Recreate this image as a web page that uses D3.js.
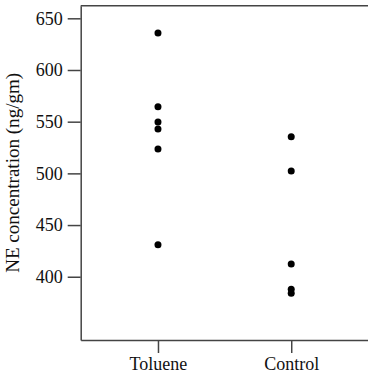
<!DOCTYPE html>
<html>
<head>
<meta charset="utf-8">
<script src="https://cdn.jsdelivr.net/npm/d3@7"></script>
<style>
  body { margin: 0; background: #fff; }
  svg { display: block; }
  .axis text { font-family: "Liberation Serif", "Times New Roman", serif; font-size: 18px; fill: #111; }
  .axis path, .axis line { stroke: #444; stroke-width: 1.5; }
</style>
</head>
<body>
<div class="chart"></div>
<script>
// Groups and NE values
var groups = ["Toluene", "Control"];
var tolueneValues = [635.8, 564.5, 549.7, 542.9, 523.6, 431];
var controlValues = [535.5, 502.3, 412.4, 388, 384];
var yTicks = [400, 450, 500, 550, 600, 650];

var svgWidth = 368;
var svgHeight = 374;

var margin = { top: 5.7, right: -0.5, bottom: 34, left: 80.7 };

var width = svgWidth - margin.left - margin.right;
var height = svgHeight - margin.top - margin.bottom;

var svg = d3.select(".chart")
    .append("svg")
    .attr("width", svgWidth)
    .attr("height", svgHeight);

var chartGroup = svg.append("g")
    .attr("transform", `translate(${margin.left}, ${margin.top})`);

var points = [];
tolueneValues.forEach(function (v) { points.push({ group: "Toluene", value: v }); });
controlValues.forEach(function (v) { points.push({ group: "Control", value: v }); });

var xScale = d3.scalePoint()
    .domain(groups)
    .range([0, width])
    .padding(0.58);

var yScale = d3.scaleLinear()
    .domain([338.8, 662.2])
    .range([height, 0]);

var leftAxis = d3.axisLeft(yScale)
    .tickValues(yTicks)
    .tickSize(13)
    .tickPadding(5)
    .tickSizeOuter(0);

var bottomAxis = d3.axisBottom(xScale)
    .tickSize(13)
    .tickPadding(5)
    .tickSizeOuter(0);

chartGroup.append("g")
    .attr("class", "axis")
    .call(leftAxis);

var xAxisG = chartGroup.append("g")
    .attr("class", "axis")
    .attr("transform", `translate(0, ${height})`)
    .call(bottomAxis);
xAxisG.selectAll("text").attr("dy", "0.66em");

// frame top (right side falls just outside the picture)
chartGroup.append("line")
    .attr("x1", 0).attr("x2", width)
    .attr("y1", 0).attr("y2", 0)
    .attr("stroke", "#444").attr("stroke-width", 1.5);

chartGroup.selectAll("circle")
    .data(points)
    .enter()
    .append("circle")
    .attr("cx", d => xScale(d.group))
    .attr("cy", d => yScale(d.value))
    .attr("r", 3.5)
    .attr("fill", "#000");

chartGroup.append("text")
    .attr("transform", "rotate(-90)")
    .attr("x", -height / 2)
    .attr("y", 18.5 - margin.left)
    .attr("text-anchor", "middle")
    .attr("font-family", "Liberation Serif, Times New Roman, serif")
    .attr("font-size", "18px")
    .attr("textLength", 200)
    .attr("lengthAdjust", "spacingAndGlyphs")
    .attr("fill", "#111")
    .text("NE concentration (ng/gm)");
</script>
</body>
</html>
